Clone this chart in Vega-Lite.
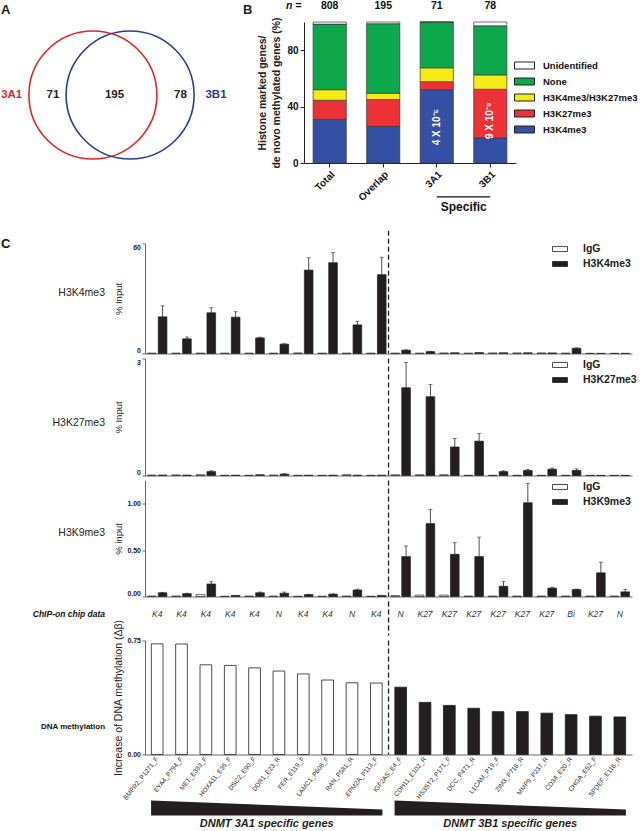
{
"$schema": "https://vega.github.io/schema/vega-lite/v6.json",
"background": "white",
"padding": {"left": 1, "top": 1, "right": 0, "bottom": 0},
"spacing": 16.5,
"config": {
  "font": "Liberation Sans",
  "view": {"stroke": null},
  "axis": {"labelFont": "Liberation Sans", "titleFont": "Liberation Sans", "grid": false, "domainColor": "#555", "tickColor": "#555", "labelColor": "#222", "titleColor": "#222", "labelOverlap": false},
  "legend": {"labelFont": "Liberation Sans", "labelColor": "#222"},
  "title": {"font": "Liberation Sans", "color": "#222"},
  "text": {"font": "Liberation Sans"}
},
"resolve": {"scale": {"color": "independent", "x": "independent", "y": "independent"}, "legend": {"color": "independent"}},
"datasets": {
  "venn": [
    {"kind": "circle", "set": "3A1", "x": -0.3, "y": 0},
    {"kind": "circle", "set": "3B1", "x": 0.3, "y": 0},
    {"kind": "label", "set": "3A1", "t": "3A1", "x": -1.61, "y": 0},
    {"kind": "label", "set": "num", "t": "71", "x": -0.944, "y": 0},
    {"kind": "label", "set": "num", "t": "195", "x": 0.048, "y": 0},
    {"kind": "label", "set": "num", "t": "78", "x": 1.113, "y": 0},
    {"kind": "label", "set": "3B1", "t": "3B1", "x": 1.685, "y": 0},
    {"kind": "panel", "set": "num", "t": "A", "x": -1.782, "y": 1.371},
    {"kind": "panel", "set": "num", "t": "B", "x": 2.121, "y": 1.371}
  ],
  "hist": [
    {"grp": "Total", "mark": "H3K4me3", "pct": 31, "ord": 1},
    {"grp": "Total", "mark": "H3K27me3", "pct": 13.5, "ord": 2},
    {"grp": "Total", "mark": "H3K4me3/H3K27me3", "pct": 7.5, "ord": 3},
    {"grp": "Total", "mark": "None", "pct": 46.5, "ord": 4},
    {"grp": "Total", "mark": "Unidentified", "pct": 1.5, "ord": 5},
    {"grp": "Overlap", "mark": "H3K4me3", "pct": 26, "ord": 1},
    {"grp": "Overlap", "mark": "H3K27me3", "pct": 19, "ord": 2},
    {"grp": "Overlap", "mark": "H3K4me3/H3K27me3", "pct": 4.5, "ord": 3},
    {"grp": "Overlap", "mark": "None", "pct": 49.3, "ord": 4},
    {"grp": "Overlap", "mark": "Unidentified", "pct": 1.2, "ord": 5},
    {"grp": "3A1", "mark": "H3K4me3", "pct": 52, "ord": 1},
    {"grp": "3A1", "mark": "H3K27me3", "pct": 5.7, "ord": 2},
    {"grp": "3A1", "mark": "H3K4me3/H3K27me3", "pct": 9.8, "ord": 3},
    {"grp": "3A1", "mark": "None", "pct": 32.5, "ord": 4},
    {"grp": "3A1", "mark": "Unidentified", "pct": 0, "ord": 5},
    {"grp": "3B1", "mark": "H3K4me3", "pct": 17.8, "ord": 1},
    {"grp": "3B1", "mark": "H3K27me3", "pct": 34.5, "ord": 2},
    {"grp": "3B1", "mark": "H3K4me3/H3K27me3", "pct": 10.2, "ord": 3},
    {"grp": "3B1", "mark": "None", "pct": 34.8, "ord": 4},
    {"grp": "3B1", "mark": "Unidentified", "pct": 2.7, "ord": 5}
  ],
  "counts": [
    {"grp": "Total", "n": "808"}, {"grp": "Overlap", "n": "195"}, {"grp": "3A1", "n": "71"}, {"grp": "3B1", "n": "78"}
  ],
  "k4": [
    {"gene": "BMPR2_P1271_F", "s": "IgG", "v": 0.2}, {"gene": "BMPR2_P1271_F", "s": "H3K4me3", "v": 20, "e": 26},
    {"gene": "EYA4_P794_F", "s": "IgG", "v": 0.2}, {"gene": "EYA4_P794_F", "s": "H3K4me3", "v": 8, "e": 9},
    {"gene": "MET_E333_F", "s": "IgG", "v": 0.2}, {"gene": "MET_E333_F", "s": "H3K4me3", "v": 22.2, "e": 25},
    {"gene": "HOXA11_E35_F", "s": "IgG", "v": 0.2}, {"gene": "HOXA11_E35_F", "s": "H3K4me3", "v": 19.8, "e": 22.8},
    {"gene": "DSC2_E90_F", "s": "IgG", "v": 0.2}, {"gene": "DSC2_E90_F", "s": "H3K4me3", "v": 8.5, "e": 8.9},
    {"gene": "DDR1_E23_R", "s": "IgG", "v": 0.2}, {"gene": "DDR1_E23_R", "s": "H3K4me3", "v": 5.1, "e": 5.3},
    {"gene": "FER_E119_F", "s": "IgG", "v": 0.3}, {"gene": "FER_E119_F", "s": "H3K4me3", "v": 45.5, "e": 52.2},
    {"gene": "LAMC1_P608_F", "s": "IgG", "v": 0.2}, {"gene": "LAMC1_P608_F", "s": "H3K4me3", "v": 49.5, "e": 55},
    {"gene": "RAN_P581_R", "s": "IgG", "v": 0.2}, {"gene": "RAN_P581_R", "s": "H3K4me3", "v": 15.6, "e": 17.6},
    {"gene": "EPM2A_P113_F", "s": "IgG", "v": 0.2}, {"gene": "EPM2A_P113_F", "s": "H3K4me3", "v": 43, "e": 52.5},
    {"gene": "IGF2AS_E4_F", "s": "IgG", "v": 0.2}, {"gene": "IGF2AS_E4_F", "s": "H3K4me3", "v": 1.8, "e": 2},
    {"gene": "CDH11_E102_R", "s": "IgG", "v": 0.2}, {"gene": "CDH11_E102_R", "s": "H3K4me3", "v": 1.0, "e": 1.2},
    {"gene": "HS3ST2_P171_F", "s": "IgG", "v": 0.3}, {"gene": "HS3ST2_P171_F", "s": "H3K4me3", "v": 0.4},
    {"gene": "DCC_P471_R", "s": "IgG", "v": 0.2}, {"gene": "DCC_P471_R", "s": "H3K4me3", "v": 0.5},
    {"gene": "L1CAM_P19_F", "s": "IgG", "v": 0.3}, {"gene": "L1CAM_P19_F", "s": "H3K4me3", "v": 0.4},
    {"gene": "ZIM3_P718_R", "s": "IgG", "v": 0.3}, {"gene": "ZIM3_P718_R", "s": "H3K4me3", "v": 0.4},
    {"gene": "MMP9_P237_R", "s": "IgG", "v": 0.3}, {"gene": "MMP9_P237_R", "s": "H3K4me3", "v": 0.3},
    {"gene": "CD34_E20_R", "s": "IgG", "v": 0.2}, {"gene": "CD34_E20_R", "s": "H3K4me3", "v": 2.8, "e": 3.1},
    {"gene": "CHGA_E52_F", "s": "IgG", "v": 0.1}, {"gene": "CHGA_E52_F", "s": "H3K4me3", "v": 0.1},
    {"gene": "SPDEF_E116_R", "s": "IgG", "v": 0.1}, {"gene": "SPDEF_E116_R", "s": "H3K4me3", "v": 0.1}
  ],
  "k27": [
    {"gene": "BMPR2_P1271_F", "s": "IgG", "v": 0.01}, {"gene": "BMPR2_P1271_F", "s": "H3K27me3", "v": 0.012},
    {"gene": "EYA4_P794_F", "s": "IgG", "v": 0.015}, {"gene": "EYA4_P794_F", "s": "H3K27me3", "v": 0.01},
    {"gene": "MET_E333_F", "s": "IgG", "v": 0.02}, {"gene": "MET_E333_F", "s": "H3K27me3", "v": 0.1, "e": 0.12},
    {"gene": "HOXA11_E35_F", "s": "IgG", "v": 0.005}, {"gene": "HOXA11_E35_F", "s": "H3K27me3", "v": 0.008},
    {"gene": "DSC2_E90_F", "s": "IgG", "v": 0.005}, {"gene": "DSC2_E90_F", "s": "H3K27me3", "v": 0.02},
    {"gene": "DDR1_E23_R", "s": "IgG", "v": 0.01}, {"gene": "DDR1_E23_R", "s": "H3K27me3", "v": 0.035, "e": 0.045},
    {"gene": "FER_E119_F", "s": "IgG", "v": 0.005}, {"gene": "FER_E119_F", "s": "H3K27me3", "v": 0.008},
    {"gene": "LAMC1_P608_F", "s": "IgG", "v": 0.005}, {"gene": "LAMC1_P608_F", "s": "H3K27me3", "v": 0.008},
    {"gene": "RAN_P581_R", "s": "IgG", "v": 0.02}, {"gene": "RAN_P581_R", "s": "H3K27me3", "v": 0.008},
    {"gene": "EPM2A_P113_F", "s": "IgG", "v": 0.005}, {"gene": "EPM2A_P113_F", "s": "H3K27me3", "v": 0.008},
    {"gene": "IGF2AS_E4_F", "s": "IgG", "v": 0.02}, {"gene": "IGF2AS_E4_F", "s": "H3K27me3", "v": 2.25, "e": 2.9},
    {"gene": "CDH11_E102_R", "s": "IgG", "v": 0.02}, {"gene": "CDH11_E102_R", "s": "H3K27me3", "v": 2.02, "e": 2.33},
    {"gene": "HS3ST2_P171_F", "s": "IgG", "v": 0.02}, {"gene": "HS3ST2_P171_F", "s": "H3K27me3", "v": 0.73, "e": 0.95},
    {"gene": "DCC_P471_R", "s": "IgG", "v": 0.005}, {"gene": "DCC_P471_R", "s": "H3K27me3", "v": 0.88, "e": 1.08},
    {"gene": "L1CAM_P19_F", "s": "IgG", "v": 0.005}, {"gene": "L1CAM_P19_F", "s": "H3K27me3", "v": 0.1, "e": 0.12},
    {"gene": "ZIM3_P718_R", "s": "IgG", "v": 0.005}, {"gene": "ZIM3_P718_R", "s": "H3K27me3", "v": 0.13, "e": 0.16},
    {"gene": "MMP9_P237_R", "s": "IgG", "v": 0.005}, {"gene": "MMP9_P237_R", "s": "H3K27me3", "v": 0.16, "e": 0.19},
    {"gene": "CD34_E20_R", "s": "IgG", "v": 0.005}, {"gene": "CD34_E20_R", "s": "H3K27me3", "v": 0.13, "e": 0.17},
    {"gene": "CHGA_E52_F", "s": "IgG", "v": 0.003}, {"gene": "CHGA_E52_F", "s": "H3K27me3", "v": 0.003},
    {"gene": "SPDEF_E116_R", "s": "IgG", "v": 0.003}, {"gene": "SPDEF_E116_R", "s": "H3K27me3", "v": 0.003}
  ],
  "k9": [
    {"gene": "BMPR2_P1271_F", "s": "IgG", "v": 0.005}, {"gene": "BMPR2_P1271_F", "s": "H3K9me3", "v": 0.04, "e": 0.045},
    {"gene": "EYA4_P794_F", "s": "IgG", "v": 0.005}, {"gene": "EYA4_P794_F", "s": "H3K9me3", "v": 0.03, "e": 0.035},
    {"gene": "MET_E333_F", "s": "IgG", "v": 0.02}, {"gene": "MET_E333_F", "s": "H3K9me3", "v": 0.135, "e": 0.16},
    {"gene": "HOXA11_E35_F", "s": "IgG", "v": 0.003}, {"gene": "HOXA11_E35_F", "s": "H3K9me3", "v": 0.012},
    {"gene": "DSC2_E90_F", "s": "IgG", "v": 0.005}, {"gene": "DSC2_E90_F", "s": "H3K9me3", "v": 0.04, "e": 0.048},
    {"gene": "DDR1_E23_R", "s": "IgG", "v": 0.005}, {"gene": "DDR1_E23_R", "s": "H3K9me3", "v": 0.035, "e": 0.048},
    {"gene": "FER_E119_F", "s": "IgG", "v": 0.003}, {"gene": "FER_E119_F", "s": "H3K9me3", "v": 0.02, "e": 0.024},
    {"gene": "LAMC1_P608_F", "s": "IgG", "v": 0.003}, {"gene": "LAMC1_P608_F", "s": "H3K9me3", "v": 0.025, "e": 0.028},
    {"gene": "RAN_P581_R", "s": "IgG", "v": 0.005}, {"gene": "RAN_P581_R", "s": "H3K9me3", "v": 0.07, "e": 0.08},
    {"gene": "EPM2A_P113_F", "s": "IgG", "v": 0.003}, {"gene": "EPM2A_P113_F", "s": "H3K9me3", "v": 0.012},
    {"gene": "IGF2AS_E4_F", "s": "IgG", "v": 0.01}, {"gene": "IGF2AS_E4_F", "s": "H3K9me3", "v": 0.43, "e": 0.545},
    {"gene": "CDH11_E102_R", "s": "IgG", "v": 0.015}, {"gene": "CDH11_E102_R", "s": "H3K9me3", "v": 0.785, "e": 0.94},
    {"gene": "HS3ST2_P171_F", "s": "IgG", "v": 0.015}, {"gene": "HS3ST2_P171_F", "s": "H3K9me3", "v": 0.455, "e": 0.58},
    {"gene": "DCC_P471_R", "s": "IgG", "v": 0.005}, {"gene": "DCC_P471_R", "s": "H3K9me3", "v": 0.43, "e": 0.64},
    {"gene": "L1CAM_P19_F", "s": "IgG", "v": 0.005}, {"gene": "L1CAM_P19_F", "s": "H3K9me3", "v": 0.11, "e": 0.16},
    {"gene": "ZIM3_P718_R", "s": "IgG", "v": 0.005}, {"gene": "ZIM3_P718_R", "s": "H3K9me3", "v": 1.01, "e": 1.22},
    {"gene": "MMP9_P237_R", "s": "IgG", "v": 0.005}, {"gene": "MMP9_P237_R", "s": "H3K9me3", "v": 0.09, "e": 0.1},
    {"gene": "CD34_E20_R", "s": "IgG", "v": 0.005}, {"gene": "CD34_E20_R", "s": "H3K9me3", "v": 0.075, "e": 0.08},
    {"gene": "CHGA_E52_F", "s": "IgG", "v": 0.005}, {"gene": "CHGA_E52_F", "s": "H3K9me3", "v": 0.255, "e": 0.37},
    {"gene": "SPDEF_E116_R", "s": "IgG", "v": 0.005}, {"gene": "SPDEF_E116_R", "s": "H3K9me3", "v": 0.05, "e": 0.075}
  ],
  "chip": [
    {"gene": "BMPR2_P1271_F", "c": "K4"}, {"gene": "EYA4_P794_F", "c": "K4"}, {"gene": "MET_E333_F", "c": "K4"},
    {"gene": "HOXA11_E35_F", "c": "K4"}, {"gene": "DSC2_E90_F", "c": "K4"}, {"gene": "DDR1_E23_R", "c": "N"},
    {"gene": "FER_E119_F", "c": "K4"}, {"gene": "LAMC1_P608_F", "c": "K4"}, {"gene": "RAN_P581_R", "c": "N"},
    {"gene": "EPM2A_P113_F", "c": "K4"}, {"gene": "IGF2AS_E4_F", "c": "N"}, {"gene": "CDH11_E102_R", "c": "K27"},
    {"gene": "HS3ST2_P171_F", "c": "K27"}, {"gene": "DCC_P471_R", "c": "K27"}, {"gene": "L1CAM_P19_F", "c": "K27"},
    {"gene": "ZIM3_P718_R", "c": "K27"}, {"gene": "MMP9_P237_R", "c": "K27"}, {"gene": "CD34_E20_R", "c": "Bi"},
    {"gene": "CHGA_E52_F", "c": "K27"}, {"gene": "SPDEF_E116_R", "c": "N"}
  ],
  "dna": [
    {"gene": "BMPR2_P1271_F", "grp": "3A1", "d": 0.728}, {"gene": "EYA4_P794_F", "grp": "3A1", "d": 0.727},
    {"gene": "MET_E333_F", "grp": "3A1", "d": 0.59}, {"gene": "HOXA11_E35_F", "grp": "3A1", "d": 0.586},
    {"gene": "DSC2_E90_F", "grp": "3A1", "d": 0.57}, {"gene": "DDR1_E23_R", "grp": "3A1", "d": 0.549},
    {"gene": "FER_E119_F", "grp": "3A1", "d": 0.53}, {"gene": "LAMC1_P608_F", "grp": "3A1", "d": 0.49},
    {"gene": "RAN_P581_R", "grp": "3A1", "d": 0.472}, {"gene": "EPM2A_P113_F", "grp": "3A1", "d": 0.47},
    {"gene": "IGF2AS_E4_F", "grp": "3B1", "d": 0.443}, {"gene": "CDH11_E102_R", "grp": "3B1", "d": 0.343},
    {"gene": "HS3ST2_P171_F", "grp": "3B1", "d": 0.323}, {"gene": "DCC_P471_R", "grp": "3B1", "d": 0.304},
    {"gene": "L1CAM_P19_F", "grp": "3B1", "d": 0.282}, {"gene": "ZIM3_P718_R", "grp": "3B1", "d": 0.282},
    {"gene": "MMP9_P237_R", "grp": "3B1", "d": 0.272}, {"gene": "CD34_E20_R", "grp": "3B1", "d": 0.262},
    {"gene": "CHGA_E52_F", "grp": "3B1", "d": 0.252}, {"gene": "SPDEF_E116_R", "grp": "3B1", "d": 0.247}
  ],
  "wedge": [
    {"grp": "3A1", "label": "DNMT 3A1 specific genes", "r": 0.75, "h": 1},
    {"grp": "3A1", "label": "DNMT 3A1 specific genes", "r": 10.25, "h": 0.4},
    {"grp": "3B1", "label": "DNMT 3B1 specific genes", "r": 10.75, "h": 1},
    {"grp": "3B1", "label": "DNMT 3B1 specific genes", "r": 20.25, "h": 0.4}
  ]
},
"vconcat": [
  {
    "bounds": "flush",
    "spacing": 0,
    "resolve": {"scale": {"color": "independent", "x": "independent", "y": "independent"}, "legend": {"color": "independent"}},
    "hconcat": [
      {
        "width": 159, "height": 141,
        "data": {"name": "venn"},
        "encoding": {
          "x": {"field": "x", "type": "quantitative", "scale": {"domain": [0.5403, 3.1048], "zero": false, "nice": false}, "axis": null},
          "y": {"field": "y", "type": "quantitative", "scale": {"domain": [-1.097, 1.177], "zero": false, "nice": false}, "axis": null},
          "color": {"field": "set", "type": "nominal", "scale": {"domain": ["3A1", "3B1", "num"], "range": ["#E2252B", "#2D3C92", "#231F20"]}, "legend": null}
        },
        "layer": [
          {"transform": [{"filter": "datum.kind == 'circle'"}], "mark": {"type": "point", "shape": "circle", "filled": false, "size": 16384, "strokeWidth": 1.6, "opacity": 1}},
          {"transform": [{"filter": "datum.kind == 'label'"}], "mark": {"type": "text", "fontSize": 11.5, "fontWeight": "bold"}, "encoding": {"text": {"field": "t"}}},
          {"transform": [{"filter": "datum.kind == 'panel'"}], "mark": {"type": "text", "fontSize": 13, "fontWeight": "bold", "align": "left"}, "encoding": {"text": {"field": "t"}}}
        ]
      },
      {
        "width": 212, "height": 141,
        "layer": [
          {
            "data": {"name": "hist"},
            "mark": {"type": "bar", "stroke": "#3a3a3a", "strokeWidth": 0.7},
            "encoding": {
              "x": {"field": "grp", "type": "nominal", "scale": {"domain": ["Total", "Overlap", "3A1", "3B1"], "paddingInner": 0.38, "paddingOuter": 0.17},
                    "axis": {"title": null, "labelAngle": -45, "labelFontSize": 10, "labelFontWeight": "bold", "tickSize": 4, "domainColor": "#222", "tickColor": "#222", "labelColor": "#111", "labelPadding": 2}},
              "y": {"field": "pct", "type": "quantitative", "stack": "zero", "scale": {"domain": [0, 100], "nice": false},
                    "axis": {"values": [0, 20, 40, 60, 80, 100], "title": ["Histone marked genes/", "de novo methylated genes (%)"], "titleFontSize": 10.5, "titleFontWeight": "bold", "titleLineHeight": 14, "titlePadding": 5, "labelFontSize": 10, "labelFontWeight": "bold", "tickSize": 4, "domainColor": "#222", "tickColor": "#222", "labelColor": "#111"}},
              "color": {"field": "mark", "type": "nominal",
                        "scale": {"domain": ["Unidentified", "None", "H3K4me3/H3K27me3", "H3K27me3", "H3K4me3"], "range": ["#ffffff", "#0DA84C", "#F4EA18", "#EC3237", "#3450A4"]},
                        "legend": {"orient": "none", "legendX": 210, "legendY": 33, "title": null, "symbolType": "M-1,-0.35L1,-0.35L1,0.35L-1,0.35Z", "symbolSize": 400, "symbolStrokeColor": "#222", "symbolStrokeWidth": 1, "labelFontSize": 9.5, "labelFontWeight": "bold", "labelOffset": 8, "rowPadding": -6, "padding": 0, "labelColor": "#111"}},
              "order": {"field": "ord", "type": "quantitative"}
            }
          },
          {"data": {"name": "counts"}, "mark": {"type": "text", "fontSize": 10.5, "fontWeight": "bold", "color": "#111"},
           "encoding": {"x": {"field": "grp", "type": "nominal"}, "y": {"datum": 111}, "text": {"field": "n"}}},
          {"data": {"values": [{"t": "n ="}]}, "mark": {"type": "text", "fontSize": 10.5, "fontWeight": "bold", "fontStyle": "italic", "dx": -36, "color": "#111"},
           "encoding": {"x": {"datum": "Total"}, "y": {"datum": 111}, "text": {"field": "t"}}},
          {"data": {"values": [{"t": "4 X 10⁻⁵"}]}, "mark": {"type": "text", "angle": 270, "fontSize": 10, "fontWeight": "bold", "color": "white"},
           "encoding": {"x": {"datum": "3A1"}, "y": {"datum": 25.5}, "text": {"field": "t"}}},
          {"data": {"values": [{"t": "9 X 10⁻⁹"}]}, "mark": {"type": "text", "angle": 270, "fontSize": 10, "fontWeight": "bold", "color": "white"},
           "encoding": {"x": {"datum": "3B1"}, "y": {"datum": 30}, "text": {"field": "t"}}},
          {"data": {"values": [{"t": "Specific"}]}, "mark": {"type": "rule", "color": "#111", "strokeWidth": 1.2},
           "encoding": {"x": {"datum": "3A1"}, "x2": {"datum": "3B1"}, "y": {"datum": -24}}},
          {"data": {"values": [{"t": "Specific"}]}, "mark": {"type": "text", "fontSize": 12, "fontWeight": "bold", "dx": 27, "color": "#111"},
           "encoding": {"x": {"datum": "3A1"}, "y": {"datum": -31}, "text": {"field": "t"}}}
        ]
      }
    ]
  },
  {
    "bounds": "flush",
    "spacing": 5,
    "resolve": {"scale": {"color": "independent", "xOffset": "independent", "x": "independent", "y": "independent"}, "legend": {"color": "independent"}},
    "vconcat": [
      {
        "width": 487, "height": 110,
        "layer": [
          {"data": {"name": "k4"}, "mark": {"type": "bar", "stroke": "#231F20", "strokeWidth": 0.7},
           "encoding": {
             "x": {"field": "gene", "type": "nominal", "scale": {"domain": ["BMPR2_P1271_F","EYA4_P794_F","MET_E333_F","HOXA11_E35_F","DSC2_E90_F","DDR1_E23_R","FER_E119_F","LAMC1_P608_F","RAN_P581_R","EPM2A_P113_F","IGF2AS_E4_F","CDH11_E102_R","HS3ST2_P171_F","DCC_P471_R","L1CAM_P19_F","ZIM3_P718_R","MMP9_P237_R","CD34_E20_R","CHGA_E52_F","SPDEF_E116_R"], "paddingInner": 0.2, "paddingOuter": 0.1},
                   "axis": {"labels": false, "ticks": false, "title": null, "domainColor": "#666"}},
             "xOffset": {"field": "s", "type": "nominal", "scale": {"domain": ["IgG", "H3K4me3"], "paddingInner": 0.2}},
             "y": {"field": "v", "type": "quantitative", "scale": {"domain": [0, 60], "nice": false},
                   "axis": {"values": [0, 10, 20, 30, 40, 50, 60], "title": "% Input", "titleFontSize": 9.5, "titleFontWeight": "normal", "titleX": -22, "titleBaseline": "bottom", "labelFontSize": 7, "labelFontWeight": "bold", "labelFlush": true, "tickSize": 3, "labelPadding": 1.5, "domainColor": "#666", "tickColor": "#666"}},
             "color": {"field": "s", "type": "nominal", "scale": {"domain": ["IgG", "H3K4me3"], "range": ["#ffffff", "#231F20"]},
                       "legend": {"orient": "none", "legendX": 407, "legendY": -2.5, "title": null, "symbolType": "M-1,-0.33L1,-0.33L1,0.33L-1,0.33Z", "symbolSize": 225, "symbolStrokeColor": "#231F20", "symbolStrokeWidth": 0.8, "labelFontSize": 10.5, "labelFontWeight": "bold", "labelOffset": 15, "rowPadding": 1, "padding": 0}}
           }},
          {"data": {"name": "k4"}, "transform": [{"filter": "isValid(datum.e)"}], "mark": {"type": "rule", "color": "#231F20", "strokeWidth": 0.8},
           "encoding": {"x": {"field": "gene", "type": "nominal"}, "xOffset": {"field": "s", "type": "nominal"}, "y": {"field": "v", "type": "quantitative"}, "y2": {"field": "e"}}},
          {"data": {"name": "k4"}, "transform": [{"filter": "isValid(datum.e)"}], "mark": {"type": "tick", "color": "#231F20", "size": 4, "thickness": 0.8},
           "encoding": {"x": {"field": "gene", "type": "nominal"}, "xOffset": {"field": "s", "type": "nominal"}, "y": {"field": "e", "type": "quantitative"}}},
          {"data": {"values": [{"d": 1}]}, "mark": {"type": "rule", "color": "#231F20", "strokeWidth": 1.3, "strokeDash": [5, 3], "xOffset": -2.4},
           "encoding": {"x": {"datum": "IGF2AS_E4_F", "bandPosition": 0}, "y": {"datum": 67}, "y2": {"datum": 0}}},
          {"data": {"values": [{"t": "H3K4me3"}]}, "mark": {"type": "text", "align": "right", "baseline": "middle", "fontSize": 10.5, "color": "#222", "dx": -42.4, "dy": -6},
           "encoding": {"x": {"datum": "BMPR2_P1271_F", "bandPosition": 0}, "y": {"datum": 30}, "text": {"field": "t"}}},
          {"data": {"values": [{"t": "C"}]}, "mark": {"type": "text", "align": "left", "baseline": "middle", "fontSize": 13, "fontWeight": "bold", "color": "#111", "dx": -146.4},
           "encoding": {"x": {"datum": "BMPR2_P1271_F", "bandPosition": 0}, "y": {"datum": 60}, "text": {"field": "t"}}}
        ]
      },
      {
        "width": 487, "height": 117,
        "layer": [
          {"data": {"name": "k27"}, "mark": {"type": "bar", "stroke": "#231F20", "strokeWidth": 0.7},
           "encoding": {
             "x": {"field": "gene", "type": "nominal", "scale": {"domain": ["BMPR2_P1271_F","EYA4_P794_F","MET_E333_F","HOXA11_E35_F","DSC2_E90_F","DDR1_E23_R","FER_E119_F","LAMC1_P608_F","RAN_P581_R","EPM2A_P113_F","IGF2AS_E4_F","CDH11_E102_R","HS3ST2_P171_F","DCC_P471_R","L1CAM_P19_F","ZIM3_P718_R","MMP9_P237_R","CD34_E20_R","CHGA_E52_F","SPDEF_E116_R"], "paddingInner": 0.2, "paddingOuter": 0.1},
                   "axis": {"labels": false, "ticks": false, "title": null, "domainColor": "#666"}},
             "xOffset": {"field": "s", "type": "nominal", "scale": {"domain": ["IgG", "H3K27me3"], "paddingInner": 0.2}},
             "y": {"field": "v", "type": "quantitative", "scale": {"domain": [0, 3], "nice": false},
                   "axis": {"values": [0, 1, 2, 3], "title": "% Input", "titleFontSize": 9.5, "titleFontWeight": "normal", "titleX": -22, "titleBaseline": "bottom", "labelFontSize": 7, "labelFontWeight": "bold", "labelFlush": true, "tickSize": 3, "labelPadding": 1.5, "domainColor": "#666", "tickColor": "#666"}},
             "color": {"field": "s", "type": "nominal", "scale": {"domain": ["IgG", "H3K27me3"], "range": ["#ffffff", "#231F20"]},
                       "legend": {"orient": "none", "legendX": 407, "legendY": -1.5, "title": null, "symbolType": "M-1,-0.33L1,-0.33L1,0.33L-1,0.33Z", "symbolSize": 225, "symbolStrokeColor": "#231F20", "symbolStrokeWidth": 0.8, "labelFontSize": 10.5, "labelFontWeight": "bold", "labelOffset": 15, "rowPadding": 1, "padding": 0}}
           }},
          {"data": {"name": "k27"}, "transform": [{"filter": "isValid(datum.e)"}], "mark": {"type": "rule", "color": "#231F20", "strokeWidth": 0.8},
           "encoding": {"x": {"field": "gene", "type": "nominal"}, "xOffset": {"field": "s", "type": "nominal"}, "y": {"field": "v", "type": "quantitative"}, "y2": {"field": "e"}}},
          {"data": {"name": "k27"}, "transform": [{"filter": "isValid(datum.e)"}], "mark": {"type": "tick", "color": "#231F20", "size": 4, "thickness": 0.8},
           "encoding": {"x": {"field": "gene", "type": "nominal"}, "xOffset": {"field": "s", "type": "nominal"}, "y": {"field": "e", "type": "quantitative"}}},
          {"data": {"values": [{"d": 1}]}, "mark": {"type": "rule", "color": "#231F20", "strokeWidth": 1.3, "strokeDash": [5, 3], "xOffset": -2.4},
           "encoding": {"x": {"datum": "IGF2AS_E4_F", "bandPosition": 0}}},
          {"data": {"values": [{"t": "H3K27me3"}]}, "mark": {"type": "text", "align": "right", "baseline": "middle", "fontSize": 10.5, "color": "#222", "dx": -42.4, "dy": 6},
           "encoding": {"x": {"datum": "BMPR2_P1271_F", "bandPosition": 0}, "y": {"datum": 1.5}, "text": {"field": "t"}}}
        ]
      },
      {
        "width": 487, "height": 116,
        "layer": [
          {"data": {"name": "k9"}, "mark": {"type": "bar", "stroke": "#231F20", "strokeWidth": 0.7},
           "encoding": {
             "x": {"field": "gene", "type": "nominal", "scale": {"domain": ["BMPR2_P1271_F","EYA4_P794_F","MET_E333_F","HOXA11_E35_F","DSC2_E90_F","DDR1_E23_R","FER_E119_F","LAMC1_P608_F","RAN_P581_R","EPM2A_P113_F","IGF2AS_E4_F","CDH11_E102_R","HS3ST2_P171_F","DCC_P471_R","L1CAM_P19_F","ZIM3_P718_R","MMP9_P237_R","CD34_E20_R","CHGA_E52_F","SPDEF_E116_R"], "paddingInner": 0.2, "paddingOuter": 0.1},
                   "axis": {"labels": false, "ticks": false, "title": null, "domainColor": "#666"}},
             "xOffset": {"field": "s", "type": "nominal", "scale": {"domain": ["IgG", "H3K9me3"], "paddingInner": 0.2}},
             "y": {"field": "v", "type": "quantitative", "scale": {"domain": [0, 1.25], "nice": false},
                   "axis": {"values": [0, 0.25, 0.5, 0.75, 1, 1.25], "format": ".2f", "title": "% input", "titleFontSize": 9.5, "titleFontWeight": "normal", "titleX": -22, "titleBaseline": "bottom", "labelFontSize": 7, "labelFontWeight": "bold", "labelFlush": true, "tickSize": 3, "labelPadding": 1.5, "domainColor": "#666", "tickColor": "#666"}},
             "color": {"field": "s", "type": "nominal", "scale": {"domain": ["IgG", "H3K9me3"], "range": ["#ffffff", "#231F20"]},
                       "legend": {"orient": "none", "legendX": 407, "legendY": -1.5, "title": null, "symbolType": "M-1,-0.33L1,-0.33L1,0.33L-1,0.33Z", "symbolSize": 225, "symbolStrokeColor": "#231F20", "symbolStrokeWidth": 0.8, "labelFontSize": 10.5, "labelFontWeight": "bold", "labelOffset": 15, "rowPadding": 1, "padding": 0}}
           }},
          {"data": {"name": "k9"}, "transform": [{"filter": "isValid(datum.e)"}], "mark": {"type": "rule", "color": "#231F20", "strokeWidth": 0.8},
           "encoding": {"x": {"field": "gene", "type": "nominal"}, "xOffset": {"field": "s", "type": "nominal"}, "y": {"field": "v", "type": "quantitative"}, "y2": {"field": "e"}}},
          {"data": {"name": "k9"}, "transform": [{"filter": "isValid(datum.e)"}], "mark": {"type": "tick", "color": "#231F20", "size": 4, "thickness": 0.8},
           "encoding": {"x": {"field": "gene", "type": "nominal"}, "xOffset": {"field": "s", "type": "nominal"}, "y": {"field": "e", "type": "quantitative"}}},
          {"data": {"values": [{"d": 1}]}, "mark": {"type": "rule", "color": "#231F20", "strokeWidth": 1.3, "strokeDash": [5, 3], "xOffset": -2.4},
           "encoding": {"x": {"datum": "IGF2AS_E4_F", "bandPosition": 0}}},
          {"data": {"values": [{"t": "H3K9me3"}]}, "mark": {"type": "text", "align": "right", "baseline": "middle", "fontSize": 10.5, "color": "#222", "dx": -42.4, "dy": -6},
           "encoding": {"x": {"datum": "BMPR2_P1271_F", "bandPosition": 0}, "y": {"datum": 0.625}, "text": {"field": "t"}}}
        ]
      },
      {
        "width": 487, "height": 34,
        "layer": [
          {"data": {"name": "chip"}, "mark": {"type": "text", "fontStyle": "italic", "fontSize": 8.5, "dy": -5, "color": "#333"},
           "encoding": {"x": {"field": "gene", "type": "nominal", "scale": {"domain": ["BMPR2_P1271_F","EYA4_P794_F","MET_E333_F","HOXA11_E35_F","DSC2_E90_F","DDR1_E23_R","FER_E119_F","LAMC1_P608_F","RAN_P581_R","EPM2A_P113_F","IGF2AS_E4_F","CDH11_E102_R","HS3ST2_P171_F","DCC_P471_R","L1CAM_P19_F","ZIM3_P718_R","MMP9_P237_R","CD34_E20_R","CHGA_E52_F","SPDEF_E116_R"], "paddingInner": 0.2, "paddingOuter": 0.1}, "axis": null},
                        "text": {"field": "c"}}},
          {"data": {"values": [{"d": 1}]}, "mark": {"type": "rule", "color": "#231F20", "strokeWidth": 1.3, "strokeDash": [5, 3], "xOffset": -2.4},
           "encoding": {"x": {"datum": "IGF2AS_E4_F", "bandPosition": 0}}},
          {"data": {"values": [{"t": "ChIP-on chip data"}]}, "mark": {"type": "text", "align": "right", "baseline": "middle", "fontSize": 8.5, "fontWeight": "bold", "fontStyle": "italic", "color": "#111", "dx": -42.4, "dy": -5},
           "encoding": {"x": {"datum": "BMPR2_P1271_F", "bandPosition": 0}, "text": {"field": "t"}}}
        ]
      },
      {
        "width": 487, "height": 114,
        "layer": [
          {"data": {"name": "dna"}, "mark": {"type": "bar", "width": {"band": 0.6}, "stroke": "#231F20", "strokeWidth": 0.8},
           "encoding": {
             "x": {"field": "gene", "type": "nominal", "scale": {"domain": ["BMPR2_P1271_F","EYA4_P794_F","MET_E333_F","HOXA11_E35_F","DSC2_E90_F","DDR1_E23_R","FER_E119_F","LAMC1_P608_F","RAN_P581_R","EPM2A_P113_F","IGF2AS_E4_F","CDH11_E102_R","HS3ST2_P171_F","DCC_P471_R","L1CAM_P19_F","ZIM3_P718_R","MMP9_P237_R","CD34_E20_R","CHGA_E52_F","SPDEF_E116_R"], "paddingInner": 0.2, "paddingOuter": 0.1},
                   "axis": {"title": null, "labelAngle": -52, "labelAlign": "right", "labelBaseline": "middle", "labelFontSize": 6.5, "ticks": false, "labelPadding": 3, "domainColor": "#666", "labelColor": "#222"}},
             "y": {"field": "d", "type": "quantitative", "scale": {"domain": [0, 0.75], "nice": false},
                   "axis": {"values": [0, 0.25, 0.5, 0.75], "format": ".2f", "title": "Increase of DNA methylation  (Δβ)", "titleFontSize": 10.5, "titleFontWeight": "normal", "titleX": -21.5, "titleBaseline": "bottom", "labelFontSize": 7, "labelFontWeight": "bold", "tickSize": 3, "labelPadding": 1.5, "domainColor": "#666", "tickColor": "#666"}},
             "color": {"field": "grp", "type": "nominal", "scale": {"domain": ["3A1", "3B1"], "range": ["#ffffff", "#231F20"]}, "legend": null}
           }},
          {"data": {"values": [{"d": 1}]}, "mark": {"type": "rule", "color": "#231F20", "strokeWidth": 1.3, "strokeDash": [5, 3], "xOffset": -2.4},
           "encoding": {"x": {"datum": "IGF2AS_E4_F", "bandPosition": 0}}},
          {"data": {"values": [{"t": "DNA methylation"}]}, "mark": {"type": "text", "align": "right", "baseline": "middle", "fontSize": 8, "fontWeight": "bold", "color": "#111", "dx": -42.4},
           "encoding": {"x": {"datum": "BMPR2_P1271_F", "bandPosition": 0}, "y": {"datum": 0.184}, "text": {"field": "t"}}}
        ]
      },
      {
        "width": 487, "height": 68,
        "data": {"name": "wedge"},
        "layer": [
          {"mark": {"type": "area", "color": "#231F20", "interpolate": "linear"},
           "encoding": {
             "x": {"field": "r", "type": "quantitative", "scale": {"domain": [0.5, 20.5], "nice": false, "zero": false}, "axis": null},
             "y": {"field": "h", "type": "quantitative", "scale": {"domain": [-0.8, 3.733], "nice": false, "zero": false}, "axis": null},
             "y2": {"datum": 0},
             "detail": {"field": "grp"}
           }},
          {"transform": [{"aggregate": [{"op": "mean", "field": "r", "as": "mid"}], "groupby": ["label"]}],
           "mark": {"type": "text", "fontSize": 11, "fontWeight": "bold", "fontStyle": "italic", "color": "#231F20"},
           "encoding": {"x": {"field": "mid", "type": "quantitative"}, "y": {"datum": -0.6}, "text": {"field": "label"}}}
        ]
      }
    ]
  }
]
}
